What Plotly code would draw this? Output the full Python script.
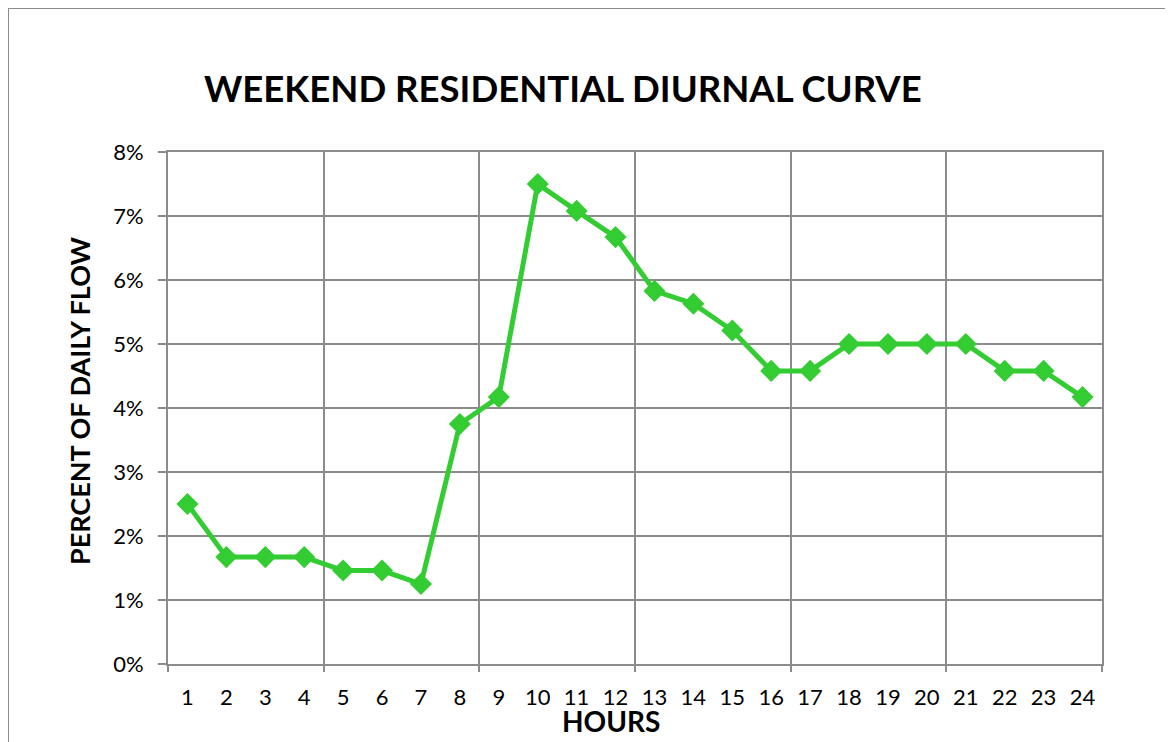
import plotly.graph_objects as go

hours = list(range(1, 25))
hour_labels = [str(h) for h in hours]
percent_flow = [0.0250, 0.0167, 0.0167, 0.0167, 0.0146, 0.0146, 0.0125, 0.0375,
                0.0417, 0.0750, 0.0708, 0.0667, 0.0583, 0.0563, 0.0521, 0.0458,
                0.0458, 0.0500, 0.0500, 0.0500, 0.0500, 0.0458, 0.0458, 0.0417]
y_ticks = [0, 0.01, 0.02, 0.03, 0.04, 0.05, 0.06, 0.07, 0.08]
x_grid = [0.5, 4.5, 8.5, 12.5, 16.5, 20.5, 24.5]

title_text = "WEEKEND RESIDENTIAL DIURNAL CURVE"
y_title = "PERCENT OF DAILY FLOW"
x_title = "HOURS"

GRID = "#8c8c8c"
GREEN = "#33cc33"
FONT = "Lato, 'Open Sans', sans-serif"

fig = go.Figure()
fig.add_trace(go.Scatter(
    x=hours, y=percent_flow, mode="lines+markers",
    line=dict(color=GREEN, width=5),
    marker=dict(symbol="diamond", size=17, color=GREEN),
    showlegend=False, hoverinfo="x+y",
))

fig.update_layout(
    width=1173, height=742,
    margin=dict(l=160, r=79, t=144, b=86),
    paper_bgcolor="white", plot_bgcolor="white",
    font=dict(family=FONT, color="black", size=22),
    xaxis=dict(
        range=[0.5, 24.5], tickmode="array", tickvals=hours, ticktext=hour_labels,
        showgrid=False, ticks="", zeroline=False,
        showline=True, linecolor=GRID, linewidth=2, mirror=True,
        tickfont=dict(size=22, family=FONT, color="black"),
        ticklabelstandoff=13,
        minor=dict(tickmode="array", tickvals=x_grid, showgrid=True,
                   gridcolor=GRID, gridwidth=2, ticks="outside",
                   ticklen=6, tickcolor=GRID, tickwidth=2),
    ),
    yaxis=dict(
        range=[0, 0.08], tickmode="array", tickvals=y_ticks, tickformat=".0%",
        showgrid=True, gridcolor=GRID, gridwidth=2, zeroline=False,
        showline=True, linecolor=GRID, linewidth=2, mirror=True,
        ticks="outside", ticklen=8, tickcolor=GRID, tickwidth=2,
        ticklabelstandoff=10,
        tickfont=dict(size=22, family=FONT, color="black"),
    ),
    annotations=[
        dict(text="<b>" + title_text + "</b>", xref="paper", yref="paper",
             x=(563 - 168) / 934, y=(664 - 88) / 512, xanchor="center", yanchor="middle",
             showarrow=False, font=dict(size=36.5, family=FONT, color="black")),
        dict(text="<b>" + y_title + "</b>", xref="paper", yref="paper",
             x=(79 - 168) / 934, y=(664 - 401) / 512, xanchor="center", yanchor="middle",
             textangle=-90, showarrow=False, font=dict(size=27, family=FONT, color="black")),
        dict(text="<b>" + x_title + "</b>", xref="paper", yref="paper",
             x=(611 - 168) / 934, y=(664 - 721) / 512, xanchor="center", yanchor="middle",
             showarrow=False, font=dict(size=28, family=FONT, color="black")),
    ],
    shapes=[
        dict(type="rect", xref="paper", yref="paper",
             x0=(8 - 168) / 934, x1=(1168 - 168) / 934,
             y0=(664 - 760) / 512, y1=(664 - 8) / 512,
             line=dict(color=GRID, width=2), fillcolor="rgba(0,0,0,0)", layer="below"),
    ],
)

fig.write_html("out.html")
